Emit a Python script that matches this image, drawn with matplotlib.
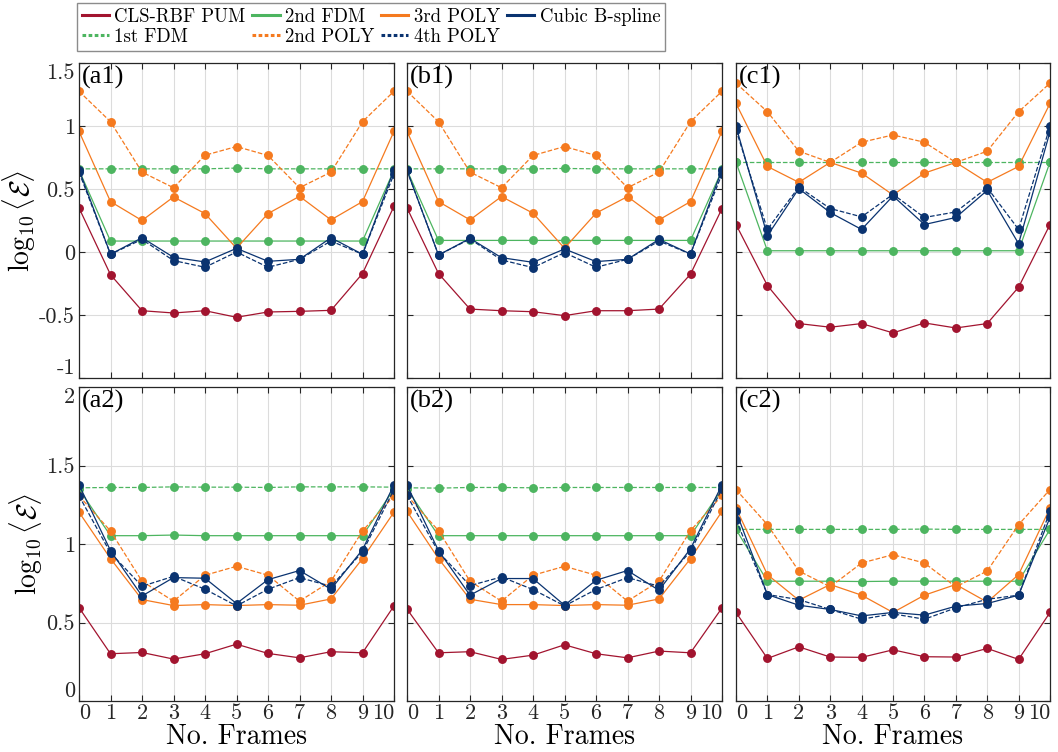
import matplotlib
matplotlib.use("Agg")
import matplotlib.pyplot as plt
from matplotlib.lines import Line2D

plt.rcParams['font.family'] = ['cmr10', 'DejaVu Serif']
plt.rcParams['mathtext.fontset'] = 'cm'
plt.rcParams['axes.unicode_minus'] = False
plt.rcParams['axes.formatter.use_mathtext'] = True

frames = list(range(11))
series_names = ["CLS-RBF PUM", "1st FDM", "2nd FDM", "2nd POLY", "3rd POLY", "4th POLY", "Cubic B-spline"]

# ---- panel (a1) ----
a1_cls = [0.35, -0.18, -0.466, -0.484, -0.466, -0.518, -0.476, -0.471, -0.463, -0.171, 0.363]
a1_fdm1 = [0.66, 0.66, 0.66, 0.66, 0.66, 0.666, 0.66, 0.66, 0.66, 0.66, 0.66]
a1_fdm2 = [0.65, 0.087, 0.087, 0.087, 0.087, 0.087, 0.087, 0.087, 0.087, 0.087, 0.65]
a1_poly2 = [1.276, 1.034, 0.634, 0.51, 0.768, 0.837, 0.766, 0.51, 0.634, 1.034, 1.276]
a1_poly3 = [0.958, 0.40, 0.25, 0.437, 0.305, 0.03, 0.305, 0.442, 0.255, 0.40, 0.958]
a1_poly4 = [0.634, -0.018, 0.10, -0.068, -0.121, 0.0, -0.121, -0.058, 0.087, -0.018, 0.62]
a1_bspl = [0.653, -0.018, 0.113, -0.042, -0.079, 0.029, -0.074, -0.058, 0.113, -0.018, 0.653]

# ---- panel (b1) ----
b1_cls = [0.35, -0.171, -0.453, -0.466, -0.474, -0.505, -0.466, -0.466, -0.453, -0.176, 0.345]
b1_fdm1 = [0.66, 0.66, 0.66, 0.66, 0.66, 0.663, 0.66, 0.66, 0.66, 0.66, 0.66]
b1_fdm2 = [0.65, 0.092, 0.092, 0.092, 0.092, 0.092, 0.092, 0.092, 0.092, 0.092, 0.65]
b1_poly2 = [1.276, 1.034, 0.634, 0.51, 0.766, 0.837, 0.766, 0.51, 0.634, 1.034, 1.276]
b1_poly3 = [0.958, 0.40, 0.255, 0.44, 0.308, 0.03, 0.308, 0.44, 0.255, 0.40, 0.958]
b1_poly4 = [0.647, -0.024, 0.103, -0.063, -0.124, -0.005, -0.121, -0.058, 0.087, -0.016, 0.62]
b1_bspl = [0.647, -0.024, 0.108, -0.045, -0.082, 0.024, -0.076, -0.058, 0.10, -0.016, 0.653]

# ---- panel (c1) ----
c1_cls = [0.218, -0.266, -0.568, -0.597, -0.568, -0.642, -0.563, -0.603, -0.568, -0.279, 0.218]
c1_fdm1 = [0.713, 0.713, 0.713, 0.713, 0.713, 0.713, 0.713, 0.713, 0.713, 0.713, 0.713]
c1_fdm2 = [0.713, 0.01, 0.01, 0.01, 0.01, 0.01, 0.01, 0.01, 0.01, 0.01, 0.713]
c1_poly2 = [1.34, 1.113, 0.80, 0.711, 0.871, 0.929, 0.871, 0.711, 0.80, 1.113, 1.34]
c1_poly3 = [1.179, 0.679, 0.553, 0.711, 0.626, 0.453, 0.626, 0.711, 0.553, 0.679, 1.179]
c1_poly4 = [0.971, 0.179, 0.516, 0.345, 0.279, 0.458, 0.274, 0.318, 0.511, 0.179, 0.997]
c1_bspl = [0.997, 0.129, 0.503, 0.313, 0.179, 0.445, 0.218, 0.274, 0.489, 0.066, 0.955]

# ---- panel (a2) ----
a2_cls = [0.595, 0.301, 0.309, 0.267, 0.301, 0.362, 0.303, 0.275, 0.314, 0.307, 0.606]
a2_fdm1 = [1.358, 1.36, 1.36, 1.364, 1.362, 1.362, 1.36, 1.364, 1.364, 1.364, 1.362]
a2_fdm2 = [1.35, 1.053, 1.053, 1.057, 1.053, 1.053, 1.053, 1.053, 1.053, 1.053, 1.35]
a2_poly2 = [1.307, 1.083, 0.763, 0.636, 0.801, 0.858, 0.801, 0.636, 0.763, 1.083, 1.307]
a2_poly3 = [1.203, 0.907, 0.646, 0.608, 0.614, 0.608, 0.614, 0.61, 0.65, 0.907, 1.203]
a2_poly4 = [1.307, 0.943, 0.731, 0.794, 0.712, 0.606, 0.712, 0.786, 0.731, 0.949, 1.347]
a2_bspl = [1.377, 0.958, 0.669, 0.786, 0.782, 0.621, 0.773, 0.831, 0.712, 0.964, 1.377]

# ---- panel (b2) ----
b2_cls = [0.585, 0.307, 0.314, 0.265, 0.292, 0.358, 0.301, 0.275, 0.318, 0.307, 0.593]
b2_fdm1 = [1.358, 1.356, 1.36, 1.36, 1.358, 1.36, 1.36, 1.36, 1.36, 1.36, 1.36]
b2_fdm2 = [1.35, 1.053, 1.053, 1.053, 1.053, 1.053, 1.053, 1.053, 1.053, 1.053, 1.35]
b2_poly2 = [1.309, 1.085, 0.763, 0.636, 0.801, 0.858, 0.801, 0.636, 0.763, 1.085, 1.309]
b2_poly3 = [1.208, 0.907, 0.648, 0.614, 0.614, 0.608, 0.614, 0.61, 0.65, 0.907, 1.208]
b2_poly4 = [1.309, 0.949, 0.735, 0.79, 0.71, 0.606, 0.71, 0.786, 0.731, 0.953, 1.352]
b2_bspl = [1.375, 0.958, 0.674, 0.78, 0.78, 0.61, 0.769, 0.831, 0.705, 0.97, 1.377]

# ---- panel (c2) ----
c2_cls = [0.564, 0.271, 0.345, 0.28, 0.278, 0.326, 0.282, 0.28, 0.335, 0.265, 0.564]
c2_fdm1 = [1.093, 1.093, 1.093, 1.093, 1.093, 1.093, 1.095, 1.093, 1.093, 1.093, 1.093]
c2_fdm2 = [1.093, 0.763, 0.763, 0.763, 0.761, 0.763, 0.763, 0.763, 0.763, 0.763, 1.093]
c2_poly2 = [1.347, 1.123, 0.828, 0.727, 0.879, 0.932, 0.879, 0.727, 0.828, 1.123, 1.347]
c2_poly3 = [1.229, 0.805, 0.642, 0.742, 0.674, 0.564, 0.674, 0.742, 0.63, 0.805, 1.229]
c2_poly4 = [1.153, 0.678, 0.646, 0.583, 0.521, 0.555, 0.521, 0.593, 0.648, 0.674, 1.208]
c2_bspl = [1.208, 0.678, 0.61, 0.583, 0.542, 0.564, 0.547, 0.604, 0.621, 0.674, 1.169]

panels = {
    "(a1)": [a1_cls, a1_fdm1, a1_fdm2, a1_poly2, a1_poly3, a1_poly4, a1_bspl],
    "(b1)": [b1_cls, b1_fdm1, b1_fdm2, b1_poly2, b1_poly3, b1_poly4, b1_bspl],
    "(c1)": [c1_cls, c1_fdm1, c1_fdm2, c1_poly2, c1_poly3, c1_poly4, c1_bspl],
    "(a2)": [a2_cls, a2_fdm1, a2_fdm2, a2_poly2, a2_poly3, a2_poly4, a2_bspl],
    "(b2)": [b2_cls, b2_fdm1, b2_fdm2, b2_poly2, b2_poly3, b2_poly4, b2_bspl],
    "(c2)": [c2_cls, c2_fdm1, c2_fdm2, c2_poly2, c2_poly3, c2_poly4, c2_bspl],
}

red = '#A2142F'
green = '#4DB560'
orange = '#F57A1F'
blue = '#0A3370'
styles = [
    (red, '-'), (green, '--'), (green, '-'), (orange, '--'),
    (orange, '-'), (blue, '--'), (blue, '-'),
]
draw_order = [1, 2, 3, 4, 0, 5, 6]

W, H = 1058, 752
fig = plt.figure(figsize=(W / 100, H / 100), dpi=100)

col_lr = [(79, 394), (407, 722), (736, 1050)]
row_tb = [(63, 378), (387, 701)]
ylims = [(-1, 1.5), (0, 2)]
yticks = [[-1, -0.5, 0, 0.5, 1, 1.5], [0, 0.5, 1, 1.5, 2]]
ytlabels = [["-1", "-0.5", "0", "0.5", "1", "1.5"], ["0", "0.5", "1", "1.5", "2"]]
labels_grid = [["(a1)", "(b1)", "(c1)"], ["(a2)", "(b2)", "(c2)"]]

frame_col = '#262626'
for r in range(2):
    for c in range(3):
        l, rr = col_lr[c]
        t, b = row_tb[r]
        ax = fig.add_axes([l / W, 1 - b / H, (rr - l) / W, (b - t) / H])
        data = panels[labels_grid[r][c]]
        for i in draw_order:
            col, ls = styles[i]
            ax.plot(frames, data[i], color=col, ls=ls, lw=0.9,
                    marker='o', ms=5.4, mec=col, mfc=col)
        ax.set_xlim(0, 10)
        ax.set_ylim(*ylims[r])
        ax.set_xticks(frames)
        ax.set_yticks(yticks[r])
        ax.grid(True, color='#dcdcdc', lw=0.8)
        ax.set_axisbelow(True)
        ax.tick_params(direction='in', top=True, right=True, length=4,
                       labelsize=16, colors=frame_col, width=0.8)
        for sp in ax.spines.values():
            sp.set_color(frame_col)
            sp.set_linewidth(0.9)
        if c == 0:
            ax.set_yticklabels(ytlabels[r])
            ax.tick_params(axis='y', pad=3)
            ax.set_ylabel(r'$\log_{10}\langle\mathcal{E}\rangle$', fontsize=20, labelpad=1)
            ticks = ax.yaxis.get_major_ticks()
            ticks[0].label1.set_verticalalignment('bottom')
            ticks[-1].label1.set_verticalalignment('top')
        else:
            ax.set_yticklabels([])
        if r == 1:
            ax.set_xticklabels([str(f) for f in frames])
            ax.set_xlabel('No. Frames', fontsize=20, labelpad=0)
            ax.tick_params(axis='x', pad=2)
            xt = ax.xaxis.get_major_ticks()
            xt[0].label1.set_horizontalalignment('left')
            xt[-1].label1.set_horizontalalignment('right')
        else:
            ax.set_xticklabels([])
        ax.text(0.01, 0.99, labels_grid[r][c], transform=ax.transAxes,
                ha='left', va='top', fontsize=19, family='Liberation Serif')

leg_handles = [Line2D([], [], color=styles[i][0],
                      ls=(0, (1.2, 0.8)) if styles[i][1] == '--' else '-', lw=2.2)
               for i in range(7)]
leg = fig.legend(leg_handles, series_names, ncol=4, loc='upper left',
                 bbox_to_anchor=(77 / W, 1 - 3 / H), fontsize=13.5,
                 frameon=True, fancybox=False, edgecolor='#707070',
                 handlelength=1.45, handletextpad=0.3, columnspacing=0.35,
                 borderpad=0.25, labelspacing=0.12, borderaxespad=0)
leg.get_frame().set_linewidth(1.0)

fig.savefig('out.png', dpi=100)
